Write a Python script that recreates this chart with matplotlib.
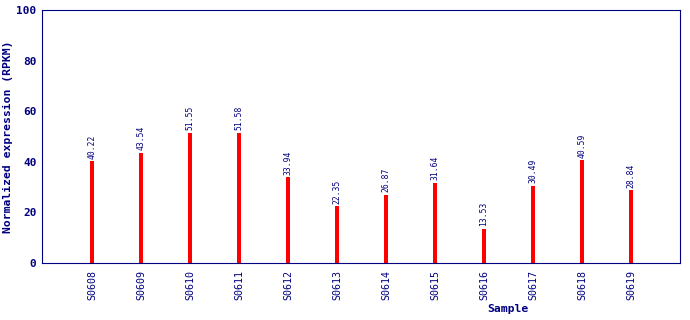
import matplotlib
matplotlib.use("Agg")
import matplotlib.pyplot as plt

samples = ["S0608", "S0609", "S0610", "S0611", "S0612", "S0613", "S0614",
           "S0615", "S0616", "S0617", "S0618", "S0619"]
values = [40.22, 43.54, 51.55, 51.58, 33.94, 22.35, 26.87, 31.64, 13.53,
          30.49, 40.59, 28.84]
yticks = [0, 20, 40, 60, 80, 100]

navy = "#000080"
plt.rcParams['font.family'] = ['DejaVu Sans Mono']

fig = plt.figure(figsize=(6.9, 3.2), dpi=100)
ax = fig.add_axes([42/690, 1 - 263/320, (680-42)/690, (263-10)/320])

x = list(range(len(samples)))
ax.bar(x, values, width=0.085, color="#ff0000")
for xi, v in zip(x, values):
    ax.text(xi, v + 1.0, f"{v:.2f}", rotation=90, ha="center", va="bottom",
            fontsize=5.8, color=navy)

ax.set_xlim(-1.02, 12)
ax.set_ylim(0, 100)
ax.set_xticks(x)
ax.set_xticklabels(samples, rotation=90, fontsize=7.2, color=navy)
ax.set_yticks(yticks)
ax.set_yticklabels([str(t) for t in yticks], fontsize=8, color=navy, fontweight="bold")
ax.tick_params(axis="x", length=0, pad=5)
ax.tick_params(axis="y", length=0, pad=4)
for s in ax.spines.values():
    s.set_color(navy)
ax.set_xlabel("Sample", fontsize=8.2, fontweight="bold", color=navy)
ax.xaxis.set_label_coords((508 - 42) / 638, -(309 - 263) / 253)
ax.xaxis.label.set_va("center")
ax.set_ylabel("Normalized expression (RPKM)", fontsize=8.2, fontweight="bold", color=navy)
ax.yaxis.set_label_coords(-(42 - 8) / 638, 0.5)
ax.yaxis.label.set_va("center")

fig.savefig("out.png", dpi=100)
